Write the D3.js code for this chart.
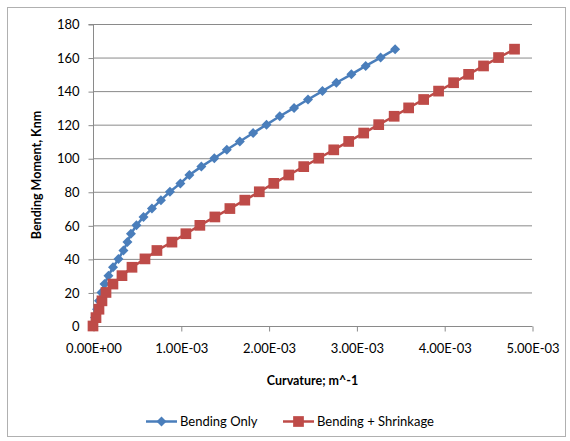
<!DOCTYPE html>
<html><head><meta charset="utf-8">
<script src="https://cdn.jsdelivr.net/npm/d3@7"></script>
<style>body{margin:0;background:#fff}svg{display:block}text{font-family:Lato,"Open Sans",sans-serif}</style>
</head><body>
<svg id="c" width="570" height="441"></svg>
<script>
const moments = [0,5,10,15,20,25,30,35,40,45,50,55,60,65,70,75,80,85,90,95,100,105,110,115,120,125,130,135,140,145,150,155,160,165];
const bendingOnly = [0,0.023e-3,0.046e-3,0.068e-3,0.097e-3,0.131e-3,0.176e-3,0.228e-3,0.290e-3,0.347e-3,0.392e-3,0.432e-3,0.495e-3,0.575e-3,0.671e-3,0.774e-3,0.876e-3,0.995e-3,1.098e-3,1.234e-3,1.382e-3,1.524e-3,1.672e-3,1.824e-3,1.976e-3,2.127e-3,2.290e-3,2.449e-3,2.613e-3,2.772e-3,2.943e-3,3.106e-3,3.276e-3,3.441e-3];
const bendingShrinkage = [0,0.034e-3,0.068e-3,0.102e-3,0.148e-3,0.227e-3,0.330e-3,0.444e-3,0.592e-3,0.728e-3,0.899e-3,1.058e-3,1.217e-3,1.388e-3,1.559e-3,1.729e-3,1.894e-3,2.059e-3,2.230e-3,2.400e-3,2.571e-3,2.742e-3,2.912e-3,3.083e-3,3.254e-3,3.430e-3,3.595e-3,3.766e-3,3.936e-3,4.107e-3,4.278e-3,4.448e-3,4.619e-3,4.801e-3];
const xTicks = [0,1e-3,2e-3,3e-3,4e-3,5e-3];
const xTickLabels = ["0.00E+00","1.00E-03","2.00E-03","3.00E-03","4.00E-03","5.00E-03"];
const yTicks = [0,20,40,60,80,100,120,140,160,180];
const seriesNames = ["Bending Only","Bending + Shrinkage"];

const svg = d3.select("#c");
const L=93,R=532,T=24,B=326;
const x = d3.scaleLinear().domain([0,5e-3]).range([L,R]);
const y = d3.scaleLinear().domain([0,180]).range([B,T]);
const blue="#4A7EBB", red="#BE4B48", grid="#8a8a8a";

svg.append("rect").attr("x",7.5).attr("y",7.5).attr("width",558).attr("height",429).attr("fill","none").attr("stroke","#b0b0b0");

// gridlines
svg.append("g").selectAll("line").data(yTicks.filter(d=>d>0)).join("line")
  .attr("x1",L).attr("x2",R).attr("y1",d=>y(d)+0.5).attr("y2",d=>y(d)+0.5)
  .attr("stroke",grid).attr("stroke-width",1);

// y axis
const ya = svg.append("g").attr("transform",`translate(${L+0.5},0.5)`)
  .call(d3.axisLeft(y).tickValues(yTicks).tickSize(5).tickPadding(9));
ya.select(".domain").attr("stroke",grid).attr("d",`M-5,${T}H0V${B}`);
ya.selectAll(".tick line").attr("stroke",grid);
ya.selectAll("text").attr("font-size",13).attr("fill","#000").attr("font-family","Lato");

// x axis
const xa = svg.append("g").attr("transform",`translate(0.5,${B+0.5})`)
  .call(d3.axisBottom(x).tickValues(xTicks).tickFormat((d,i)=>xTickLabels[i]).tickSize(5).tickPadding(12));
xa.select(".domain").attr("stroke",grid).attr("d",`M${L},0H${R}`);
xa.selectAll(".tick line").attr("stroke",grid);
xa.selectAll("text").attr("font-size",13).attr("fill","#000").attr("font-family","Lato");

// axis titles
svg.append("text").attr("x",(L+R)/2).attr("y",385).attr("text-anchor","middle")
  .attr("font-size",12.5).attr("font-weight","bold").text("Curvature; m^-1");
svg.append("text").attr("transform",`translate(41,${(T+B)/2}) rotate(-90)`).attr("text-anchor","middle")
  .attr("font-size",12.5).attr("font-weight","bold").text("Bending Moment, Knm");

const line = d3.line().x(d=>x(d[0])).y(d=>y(d[1]));
const sData = [
  {name:seriesNames[0],color:blue,rot:45,size:50,pts:bendingOnly.map((c,i)=>[c,moments[i]])},
  {name:seriesNames[1],color:red,rot:0,size:115,pts:bendingShrinkage.map((c,i)=>[c,moments[i]])}
];
sData.forEach(s=>{
  svg.append("path").attr("d",line(s.pts)).attr("fill","none").attr("stroke",s.color).attr("stroke-width",2.5);
  svg.append("g").selectAll("path").data(s.pts).join("path")
    .attr("transform",d=>`translate(${x(d[0])},${y(d[1])}) rotate(${s.rot})`)
    .attr("d",d3.symbol().type(d3.symbolSquare).size(s.size)).attr("fill",s.color);
});

// legend
const leg=[{s:sData[0],x1:146,x2:177,tx:180},{s:sData[1],x1:283,x2:314,tx:317}];
leg.forEach(l=>{
  const g=svg.append("g");
  g.append("line").attr("x1",l.x1).attr("x2",l.x2).attr("y1",421.5).attr("y2",421.5).attr("stroke",l.s.color).attr("stroke-width",2.5);
  g.append("path").attr("transform",`translate(${(l.x1+l.x2)/2},421.5) rotate(${l.s.rot})`).attr("d",d3.symbol().type(d3.symbolSquare).size(l.s.size)).attr("fill",l.s.color);
  g.append("text").attr("x",l.tx).attr("y",426).attr("font-size",13).text(l.s.name);
});
</script>
</body></html>
